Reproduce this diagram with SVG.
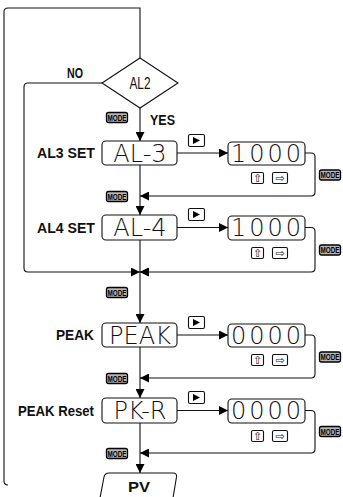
<svg xmlns="http://www.w3.org/2000/svg" width="343" height="497" viewBox="0 0 343 497">
<style>
.ln{fill:none;stroke:#111;stroke-width:1.1}
.bx{fill:#fff;stroke:#111;stroke-width:1.1}
.lbl{font-family:"Liberation Sans",Arial,sans-serif;font-weight:bold;font-size:14px;fill:#111}
.disp{font-family:"DejaVu Sans","Liberation Sans",sans-serif;font-weight:200;font-size:24px;fill:#111}
.md{font-family:"Liberation Sans",Arial,sans-serif;font-weight:bold;font-size:9px;fill:#000}
.sym{font-family:"DejaVu Sans",sans-serif;font-size:11px;fill:#111}
</style>
<defs>
<marker id="ah" viewBox="0 0 10 10" refX="10" refY="5" markerWidth="9" markerHeight="9" markerUnits="userSpaceOnUse" orient="auto">
<path d="M0,0 L10,5 L0,10 z" fill="#000"/>
</marker>
<g id="mode">
<rect x="0.5" y="0.5" width="21" height="10" rx="2" fill="#b5b5b5" stroke="#000" stroke-width="1.3"/>
<text class="md" x="11" y="8.8" text-anchor="middle" textLength="19" lengthAdjust="spacingAndGlyphs">MODE</text>
</g>
<g id="play">
<rect x="0.5" y="0.5" width="16" height="12" rx="1.5" fill="#fff" stroke="#111" stroke-width="1.1"/>
<path d="M5,3 L12,6.5 L5,10 z" fill="#000"/>
</g>
<g id="up">
<rect x="0.5" y="0.5" width="12" height="11" rx="1.5" fill="#fff" stroke="#111" stroke-width="1.1"/>
<text class="sym" x="6.5" y="10" text-anchor="middle">⇧</text>
</g>
<g id="rt">
<rect x="0.5" y="0.5" width="15" height="11" rx="1.5" fill="#fff" stroke="#111" stroke-width="1.1"/>
<text class="sym" x="8" y="10" text-anchor="middle">⇨</text>
</g>
</defs>

<g id="connectors">
<path class="ln" d="M8,485 Q4,485 4,481 L4,12 Q4,8 8,8 L140,8 L140,58"/>
<path class="ln" d="M102,83 L28,83 Q24,83 24,87 L24,268 Q24,272 28,272 L140,272" marker-end="url(#ah)"/>
<path class="ln" d="M140,108 L140,141" marker-end="url(#ah)"/>
<path class="ln" d="M140,165 L140,215" marker-end="url(#ah)"/>
<path class="ln" d="M140,240 L140,323" marker-end="url(#ah)"/>
<path class="ln" d="M140,347 L140,398" marker-end="url(#ah)"/>
<path class="ln" d="M140,423 L140,473" marker-end="url(#ah)"/>
<path class="ln" d="M177,153 L228,153" marker-end="url(#ah)"/>
<path class="ln" d="M177,227.5 L228,227.5" marker-end="url(#ah)"/>
<path class="ln" d="M177,335 L228,335" marker-end="url(#ah)"/>
<path class="ln" d="M177,410.5 L228,410.5" marker-end="url(#ah)"/>
<path class="ln" d="M305,153 L311,153 Q315,153 315,157 L315,192 Q315,196 311,196 L140,196" marker-end="url(#ah)"/>
<path class="ln" d="M305,227.5 L311,227.5 Q315,227.5 315,231.5 L315,268 Q315,272 311,272 L140,272" marker-end="url(#ah)"/>
<path class="ln" d="M305,335 L311,335 Q315,335 315,339 L315,374 Q315,378 311,378 L140,378" marker-end="url(#ah)"/>
<path class="ln" d="M305,410.5 L311,410.5 Q315,410.5 315,414.5 L315,449 Q315,453 311,453 L140,453" marker-end="url(#ah)"/>
</g>

<g id="al2">
<polygon class="bx" points="140,58 178,83 140,108 102,83"/>
<text x="140" y="89" text-anchor="middle" textLength="21" lengthAdjust="spacingAndGlyphs" style="font-family:'Liberation Sans',Arial,sans-serif;font-size:16px;fill:#111">AL2</text>
<text class="lbl" x="75" y="78" text-anchor="middle" font-size="13" textLength="16" lengthAdjust="spacingAndGlyphs">NO</text>
<text class="lbl" x="150" y="125" textLength="25" lengthAdjust="spacingAndGlyphs">YES</text>
<use href="#mode" x="106" y="112"/>
</g>

<g id="al3">
<text class="lbl" x="95" y="158" text-anchor="end" textLength="58" lengthAdjust="spacingAndGlyphs">AL3 SET</text>
<rect class="bx" x="102" y="141" width="75" height="24" rx="4"/>
<text class="disp" x="140" y="161.5" text-anchor="middle">AL-3</text>
<use href="#play" x="188" y="134"/>
</g>
<g id="al3-value">
<rect class="bx" x="228" y="142" width="77" height="23" rx="4"/>
<text class="disp" x="266" y="161.5" text-anchor="middle" textLength="70" lengthAdjust="spacing">1 0 0 0</text>
<use href="#up" x="251" y="172"/>
<use href="#rt" x="272" y="172"/>
<use href="#mode" x="319" y="169.5"/>
<use href="#mode" x="106" y="191"/>
</g>

<g id="al4">
<text class="lbl" x="95" y="232.5" text-anchor="end" textLength="58" lengthAdjust="spacingAndGlyphs">AL4 SET</text>
<rect class="bx" x="102" y="215" width="75" height="25" rx="4"/>
<text class="disp" x="140" y="236" text-anchor="middle">AL-4</text>
<use href="#play" x="188" y="208"/>
</g>
<g id="al4-value">
<rect class="bx" x="228" y="216" width="77" height="24" rx="4"/>
<text class="disp" x="266" y="236" text-anchor="middle" textLength="70" lengthAdjust="spacing">1 0 0 0</text>
<use href="#up" x="251" y="247"/>
<use href="#rt" x="272" y="247"/>
<use href="#mode" x="319" y="244.5"/>
</g>

<g id="merge">
<path d="M148,268 L140,272 L148,276 z" fill="#000"/>
<use href="#mode" x="106" y="287"/>
</g>

<g id="peak">
<text class="lbl" x="94" y="340" text-anchor="end" textLength="38" lengthAdjust="spacingAndGlyphs">PEAK</text>
<rect class="bx" x="102" y="323" width="75" height="24" rx="4"/>
<text class="disp" x="140" y="343.5" text-anchor="middle">PEAK</text>
<use href="#play" x="188" y="316"/>
</g>
<g id="peak-value">
<rect class="bx" x="228" y="324" width="77" height="23" rx="4"/>
<text class="disp" x="266" y="343.5" text-anchor="middle" textLength="70" lengthAdjust="spacing">0 0 0 0</text>
<use href="#up" x="251" y="354"/>
<use href="#rt" x="272" y="354"/>
<use href="#mode" x="319" y="351.5"/>
<use href="#mode" x="106" y="373"/>
</g>

<g id="pkr">
<text class="lbl" x="94" y="415.5" text-anchor="end" textLength="76" lengthAdjust="spacingAndGlyphs">PEAK Reset</text>
<rect class="bx" x="102" y="398" width="75" height="25" rx="4"/>
<text class="disp" x="140" y="419" text-anchor="middle">PK-R</text>
<use href="#play" x="188" y="391"/>
</g>
<g id="pkr-value">
<rect class="bx" x="228" y="399" width="77" height="24" rx="4"/>
<text class="disp" x="266" y="419" text-anchor="middle" textLength="70" lengthAdjust="spacing">0 0 0 0</text>
<use href="#up" x="251" y="430"/>
<use href="#rt" x="272" y="430"/>
<use href="#mode" x="319" y="426"/>
<use href="#mode" x="106" y="448"/>
</g>

<g id="pv">
<path class="bx" d="M100,498 L104,477 Q105,473 109,473 L173,473 Q177,473 176.5,477 L173,498"/>
<text class="lbl" x="139" y="492" text-anchor="middle" font-size="15" textLength="22" lengthAdjust="spacingAndGlyphs">PV</text>
</g>
</svg>
